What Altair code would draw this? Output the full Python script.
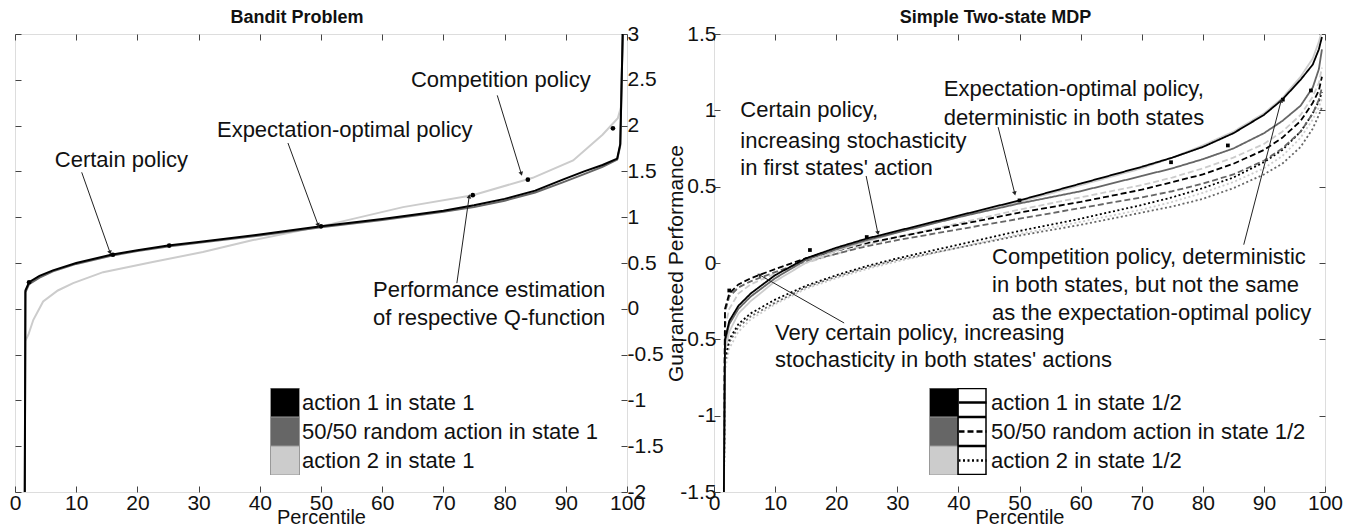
import math
import altair as alt
import pandas as pd

FONT = "Liberation Sans"
W_L, W_R, H = 612, 611, 458

# ---------------- Left panel: Bandit Problem ----------------
L_SERIES = ["action 1 in state 1", "50/50 random action in state 1", "action 2 in state 1"]
L_COLORS = ["#000000", "#666666", "#cccccc"]

l_a1_x = [1.6, 1.7, 2.3, 4, 6.2, 10, 15.7, 20, 25, 30, 40, 50, 60, 70, 75, 80, 85, 89.5, 93, 96, 98.4, 98.9, 99.3]
l_a1_y = [-2.0, 0.2, 0.29, 0.36, 0.42, 0.5, 0.59, 0.64, 0.69, 0.73, 0.81, 0.9, 0.98, 1.07, 1.13, 1.2, 1.29, 1.41, 1.5, 1.57, 1.64, 1.8, 3.0]
l_mix_x = [1.6, 1.7, 2.3, 4, 6.2, 10, 15.7, 20, 25, 30, 40, 50, 60, 70, 75, 80, 85, 89.5, 93, 96, 98.4, 98.9, 99.3]
l_mix_y = [-2.0, 0.18, 0.27, 0.34, 0.41, 0.49, 0.58, 0.63, 0.68, 0.72, 0.8, 0.89, 0.97, 1.06, 1.11, 1.18, 1.27, 1.38, 1.47, 1.55, 1.63, 1.78, 3.0]
l_a2_x = [1.6, 1.7, 2.2, 3, 4.6, 7, 9.5, 14.4, 22.5, 30.7, 38.9, 50, 63.4, 74.8, 84.6, 91.2, 96, 98.5, 99.0, 99.3]
l_a2_y = [-2.0, -0.35, -0.28, -0.12, 0.08, 0.2, 0.28, 0.4, 0.51, 0.62, 0.75, 0.9, 1.11, 1.24, 1.43, 1.62, 1.9, 2.08, 2.2, 3.0]

l_dot_x = [2.3, 16.0, 25.2, 50.0, 74.8, 83.8, 97.7]
l_dot_y = [0.29, 0.59, 0.69, 0.90, 1.24, 1.41, 1.97]

l_ann_text = ["Certain policy", "Expectation-optimal policy", "Competition policy",
              "Performance estimation", "of respective Q-function"]
l_ann_x = [6.5, 33.0, 64.7, 58.5, 58.5]
l_ann_y = [1.62, 1.95, 2.5, 0.2, -0.1]

l_arr_x1 = [10.9, 44.6, 78.8, 72.2]
l_arr_y1 = [1.49, 1.81, 2.33, 0.28]
l_arr_x2 = [15.5, 49.5, 82.7, 74.2]
l_arr_y2 = [0.62, 0.92, 1.48, 1.22]

# ---------------- Right panel: Simple Two-state MDP ----------------
R_COLOR_KEYS = ["action 1 (state 1)", "50/50 (state 1)", "action 2 (state 1)"]
R_COLORS = ["#000000", "#666666", "#cccccc"]
R_DASH_KEYS = ["action 1 in state 1/2", "50/50 random action in state 1/2", "action 2 in state 1/2"]
R_DASHES = [[1, 0], [6, 3], [2, 2.5]]

r_x = [1.6, 1.8, 2.5, 4, 6, 10, 15, 20, 25, 30, 40, 50, 60, 70, 75, 80, 85, 90, 93, 96, 98, 99, 99.5]
# solid (action 1 in state 2)
r_a1_a1 = [-1.6, -0.5, -0.38, -0.28, -0.2, -0.08, 0.03, 0.1, 0.16, 0.21, 0.31, 0.41, 0.52, 0.63, 0.69, 0.76, 0.85, 0.97, 1.07, 1.2, 1.3, 1.4, 1.48]
r_mx_a1 = [-1.6, -0.52, -0.4, -0.3, -0.22, -0.1, 0.02, 0.09, 0.15, 0.2, 0.3, 0.39, 0.47, 0.57, 0.62, 0.68, 0.75, 0.85, 0.93, 1.03, 1.15, 1.27, 1.4]
r_a2_a1 = [-1.6, -0.58, -0.45, -0.33, -0.25, -0.12, 0.0, 0.08, 0.14, 0.2, 0.3, 0.4, 0.51, 0.62, 0.69, 0.77, 0.86, 0.98, 1.08, 1.22, 1.34, 1.45, 1.52]
# dashed (50/50 in state 2)
r_a1_mx = [-1.6, -0.3, -0.2, -0.14, -0.1, -0.04, 0.03, 0.08, 0.13, 0.17, 0.25, 0.33, 0.4, 0.48, 0.53, 0.58, 0.65, 0.74, 0.82, 0.93, 1.05, 1.13, 1.22]
r_mx_mx = [-1.6, -0.32, -0.22, -0.16, -0.12, -0.06, 0.01, 0.06, 0.11, 0.15, 0.22, 0.29, 0.36, 0.43, 0.47, 0.52, 0.58, 0.67, 0.75, 0.86, 0.98, 1.07, 1.15]
r_a2_mx = [-1.6, -0.42, -0.3, -0.2, -0.14, -0.07, 0.0, 0.06, 0.12, 0.17, 0.26, 0.35, 0.43, 0.51, 0.56, 0.62, 0.69, 0.78, 0.86, 0.97, 1.09, 1.18, 1.28]
# dotted (action 2 in state 2)
r_a1_a2 = [-1.6, -0.62, -0.5, -0.4, -0.33, -0.24, -0.15, -0.08, -0.02, 0.03, 0.12, 0.21, 0.29, 0.38, 0.43, 0.49, 0.56, 0.66, 0.74, 0.86, 0.98, 1.06, 1.12]
r_mx_a2 = [-1.6, -0.65, -0.52, -0.42, -0.35, -0.26, -0.16, -0.09, -0.03, 0.02, 0.1, 0.18, 0.25, 0.33, 0.37, 0.42, 0.49, 0.58, 0.65, 0.76, 0.88, 0.97, 1.02]
r_a2_a2 = [-1.6, -0.7, -0.56, -0.45, -0.37, -0.27, -0.17, -0.1, -0.04, 0.01, 0.1, 0.19, 0.27, 0.35, 0.4, 0.46, 0.53, 0.62, 0.7, 0.82, 0.94, 1.02, 1.08]

r_dot_x = [2.5, 15.7, 25.0, 50.0, 74.8, 84.1, 93.1, 97.7]
r_dot_y = [-0.18, 0.085, 0.17, 0.41, 0.66, 0.77, 1.07, 1.13]

r_ann_text = ["Certain policy,", "increasing stochasticity", "in first states' action",
              "Expectation-optimal policy,", "deterministic in both states",
              "Competition policy, deterministic", "in both states, but not the same",
              "as the expectation-optimal policy",
              "Very certain policy, increasing", "stochasticity in both states' actions"]
r_ann_x = [4.3, 4.3, 4.3, 37.6, 37.6, 45.5, 45.5, 45.5, 10.0, 10.0]
r_ann_y = [1.0, 0.8, 0.62, 1.14, 0.95, 0.04, -0.144, -0.328, -0.459, -0.636]

r_arr_x1 = [24.9, 46.5, 86.7, 21.3]
r_arr_y1 = [0.57, 0.89, 0.12, -0.393]
r_arr_x2 = [26.8, 49.2, 92.8, 7.5]
r_arr_y2 = [0.2, 0.46, 1.06, -0.079]

x_ticks = [0, 10, 20, 30, 40, 50, 60, 70, 80, 90, 100]
yl_ticks = [-2, -1.5, -1, -0.5, 0, 0.5, 1, 1.5, 2, 2.5, 3]
yr_ticks = [-1.5, -1, -0.5, 0, 0.5, 1, 1.5]

# ---------------- helpers ----------------
def tick_axis(orient, values):
    return alt.Axis(orient=orient, values=values, labels=False, domain=False, grid=False,
                    ticks=True, tickSize=6, offset=-6, tickColor="#444", tickWidth=1,
                    minExtent=0, maxExtent=0, title=None)


def x_label_axis():
    return alt.Axis(orient="bottom", values=x_ticks, ticks=False, domain=False, grid=False,
                    labelPadding=0, labelFontSize=21, labelFont=FONT, labelColor="#111",
                    labelFlush=False, labelOverlap=False,
                    title="Percentile", titleFont=FONT, titleFontSize=20,
                    titleFontWeight="normal", titlePadding=-6, titleColor="#111")


def arrow_df(x1, y1, x2, y2, sx, sy):
    rows = []
    for a, b, c, d in zip(x1, y1, x2, y2):
        dxp = (c - a) * sx
        dyp = -(d - b) * sy
        ang = math.degrees(math.atan2(dxp, -dyp)) % 360
        rows.append({"x1": a, "y1": b, "x2": c, "y2": d, "ang": ang})
    return pd.DataFrame(rows)


def build_panel(lines_df, color_field, color_keys, colors, dash, ydom, yticks, width,
                y_label_axis, dots_df, dot_mark, ann_df, arr_df, legend_x, legend_y,
                title):
    xs = alt.Scale(domain=[0, 100], nice=False, zero=False)
    ys = alt.Scale(domain=ydom, nice=False, zero=False)
    cs = alt.Scale(domain=color_keys, range=colors)

    enc = dict(
        x=alt.X("x:Q", scale=xs, axis=x_label_axis()),
        y=alt.Y("y:Q", scale=ys, axis=y_label_axis),
        color=alt.Color(f"{color_field}:N", scale=cs, legend=None),
        detail="key:N",
        order="i:Q",
    )
    if dash:
        enc["strokeDash"] = alt.StrokeDash(
            "s2:N", scale=alt.Scale(domain=R_DASH_KEYS, range=R_DASHES),
            legend=alt.Legend(orient="none", legendX=legend_x + 28, legendY=legend_y,
                              title=None, symbolType="stroke", symbolSize=784,
                              symbolStrokeColor="black", symbolStrokeWidth=2.5,
                              symbolOpacity=1, clipHeight=29,
                              labelFont=FONT, labelFontSize=22, labelColor="#111",
                              labelLimit=500, labelOffset=3, rowPadding=0, padding=0))
    lines = alt.Chart(lines_df).mark_line(strokeWidth=2 if not dash else 1.8, clip=True).encode(**enc)

    dots = alt.Chart(dots_df).mark_point(**dot_mark).encode(
        x=alt.X("x:Q", scale=xs, axis=tick_axis("bottom", x_ticks)),
        y=alt.Y("y:Q", scale=ys, axis=tick_axis("right", yticks)),
    )

    ann = alt.Chart(ann_df).mark_text(align="left", baseline="middle", font=FONT,
                                      fontSize=22, color="#111").encode(
        x=alt.X("x:Q", scale=xs, axis=tick_axis("top", x_ticks)),
        y=alt.Y("y:Q", scale=ys, axis=tick_axis("left", yticks)),
        text="t:N",
    )

    rules = alt.Chart(arr_df).mark_rule(color="#222", strokeWidth=1).encode(
        x=alt.X("x1:Q", scale=xs, axis=None),
        y=alt.Y("y1:Q", scale=ys, axis=None),
        x2="x2:Q", y2="y2:Q",
    )
    heads = alt.Chart(arr_df).mark_point(shape="triangle", filled=True, size=22,
                                         color="#222", opacity=1).encode(
        x=alt.X("x2:Q", scale=xs, axis=None),
        y=alt.Y("y2:Q", scale=ys, axis=None),
        angle=alt.Angle("ang:Q", scale=None),
    )

    leg_df = pd.DataFrame({"c": color_keys})
    color_leg = alt.Chart(leg_df).mark_square(opacity=1).encode(
        color=alt.Color("c:N", scale=alt.Scale(domain=color_keys, range=colors),
                        legend=alt.Legend(orient="none", legendX=legend_x, legendY=legend_y,
                                          title=None, symbolType="square", symbolSize=841,
                                          symbolStrokeColor="#999", symbolStrokeWidth=1,
                                          symbolOpacity=1, clipHeight=29,
                                          labelFont=FONT, labelFontSize=22, labelColor="#111",
                                          labelLimit=500, labelOffset=2, rowPadding=0,
                                          padding=0,
                                          labelExpr="''" if dash else "datum.label"))
    ).transform_filter("false")

    layers = [lines, dots, ann, rules, heads, color_leg]
    if dash:
        frame_leg = alt.Chart(pd.DataFrame({"f": R_DASH_KEYS})).mark_point(opacity=1).encode(
            shape=alt.Shape("f:N", scale=alt.Scale(domain=R_DASH_KEYS,
                                                   range=["square", "square", "square"]),
                            legend=alt.Legend(orient="none", legendX=legend_x + 28,
                                              legendY=legend_y, title=None, symbolSize=784,
                                              symbolStrokeColor="black", symbolStrokeWidth=1.5,
                                              symbolFillColor="transparent", symbolOpacity=1,
                                              clipHeight=29,
                                              labelExpr="''", labelFontSize=22,
                                              rowPadding=0, padding=0))
        ).transform_filter("false")
        layers.append(frame_leg)

    return alt.layer(*layers).resolve_scale(
        color="independent", shape="independent"
    ).resolve_axis(x="independent", y="independent").properties(
        width=width, height=H,
        title=alt.TitleParams(title, font=FONT, fontSize=18, fontWeight="bold",
                              color="#111", offset=-4, dx=-24, anchor="middle"))


# ---------------- assemble data ----------------
rows = []
i = 0
for key, xs_, ys_ in [(L_SERIES[2], l_a2_x, l_a2_y), (L_SERIES[1], l_mix_x, l_mix_y),
                      (L_SERIES[0], l_a1_x, l_a1_y)]:
    for a, b in zip(xs_, ys_):
        rows.append({"x": a, "y": b, "series": key, "key": key, "i": i})
        i += 1
left_df = pd.DataFrame(rows)

rrows = []
i = 0
r_curves = [
    (R_COLOR_KEYS[2], R_DASH_KEYS[2], r_a2_a2), (R_COLOR_KEYS[1], R_DASH_KEYS[2], r_mx_a2),
    (R_COLOR_KEYS[0], R_DASH_KEYS[2], r_a1_a2),
    (R_COLOR_KEYS[2], R_DASH_KEYS[1], r_a2_mx), (R_COLOR_KEYS[1], R_DASH_KEYS[1], r_mx_mx),
    (R_COLOR_KEYS[0], R_DASH_KEYS[1], r_a1_mx),
    (R_COLOR_KEYS[2], R_DASH_KEYS[0], r_a2_a1), (R_COLOR_KEYS[1], R_DASH_KEYS[0], r_mx_a1),
    (R_COLOR_KEYS[0], R_DASH_KEYS[0], r_a1_a1),
]
for ck, dk, ys_ in r_curves:
    for a, b in zip(r_x, ys_):
        rrows.append({"x": a, "y": b, "s1": ck, "s2": dk, "key": ck + "|" + dk, "i": i})
        i += 1
right_df = pd.DataFrame(rrows)

l_dots = pd.DataFrame({"x": l_dot_x, "y": l_dot_y})
r_dots = pd.DataFrame({"x": r_dot_x, "y": r_dot_y})
l_ann = pd.DataFrame({"x": l_ann_x, "y": l_ann_y, "t": l_ann_text})
r_ann = pd.DataFrame({"x": r_ann_x, "y": r_ann_y, "t": r_ann_text})
l_arr = arrow_df(l_arr_x1, l_arr_y1, l_arr_x2, l_arr_y2, W_L / 100, H / 5)
r_arr = arrow_df(r_arr_x1, r_arr_y1, r_arr_x2, r_arr_y2, W_R / 100, H / 3)

left_y_axis = alt.Axis(orient="right", values=yl_ticks, ticks=False, domain=False, grid=False,
                       labelPadding=0, labelFontSize=21, labelFont=FONT, labelColor="#111",
                       labelExpr="datum.value + ''", labelFlush=False, labelOverlap=False,
                       minExtent=36, maxExtent=36, title=None)
right_y_axis = alt.Axis(orient="left", values=yr_ticks, ticks=False, domain=False, grid=False,
                        labelPadding=-2, labelFontSize=21, labelFont=FONT, labelColor="#111",
                        labelExpr="datum.value + ''", labelFlush=False, labelOverlap=False,
                        minExtent=34, maxExtent=34,
                        title="Guaranteed Performance", titleFont=FONT, titleFontSize=21,
                        titleFontWeight="normal", titleColor="#111", titlePadding=-6)

left = build_panel(left_df, "series", L_SERIES, L_COLORS, False, [-2, 3], yl_ticks, W_L,
                   left_y_axis, l_dots, dict(filled=True, size=22, color="black", opacity=1, shape="circle"),
                   l_ann, l_arr, 255, 354, "Bandit Problem")
right = build_panel(right_df, "s1", R_COLOR_KEYS, R_COLORS, True, [-1.5, 1.5], yr_ticks, W_R,
                    right_y_axis, r_dots, dict(filled=True, size=14, color="black", opacity=1, shape="square"),
                    r_ann, r_arr, 215, 354, "Simple Two-state MDP")

chart = alt.hconcat(left, right, spacing=0).resolve_scale(
    color="independent", strokeDash="independent", shape="independent",
    x="independent", y="independent"
).properties(
    padding={"left": 0, "top": 0, "right": 0, "bottom": 0}
).configure_view(stroke="#444", strokeWidth=1).configure(font=FONT)

chart.save("out.html", embed_options={"renderer": "svg", "actions": False})
